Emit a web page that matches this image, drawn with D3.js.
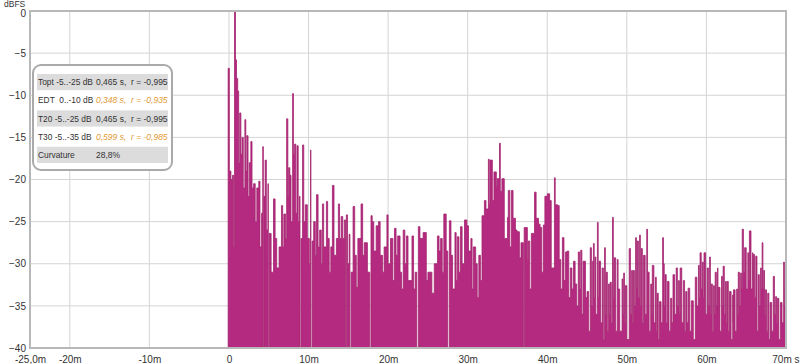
<!DOCTYPE html>
<html>
<head>
<meta charset="utf-8">
<script src="https://cdn.jsdelivr.net/npm/d3@7"></script>
<style>
  body { margin: 0; background: #fff; }
  text { font-family: "Liberation Sans", Arial, sans-serif; white-space: pre; }
</style>
</head>
<body>
<div id="chart"></div>
<script>
// impulse response: time in ms, level in dBFS
const irTime = [
  -0.15, -0.1, 0.05, 0.25, 0.45, 0.6, 0.7, 0.82, 0.95, 1.1, 1.22, 1.35, 1.5, 1.65, 1.8, 2.0, 2.12, 2.25, 2.4, 2.55,
  2.75, 2.9, 3.1, 3.3, 3.5, 3.75, 3.9, 4.1, 4.25, 4.32, 4.4, 4.55, 4.7, 4.9, 4.95, 5.05, 5.3, 5.6, 5.8, 6.0,
  6.3, 6.6, 6.75, 6.9, 7.1, 7.25, 7.4, 7.5, 7.65, 7.8, 8.0, 8.1, 8.25, 8.4, 8.55, 8.7, 8.85, 8.93, 9.05, 9.25,
  9.4, 9.6, 9.85, 10.1, 10.25, 10.3, 10.45, 10.65, 10.85, 11.0, 11.2, 11.4, 11.6, 11.75, 11.9, 12.25, 12.4, 12.6, 12.8, 13.0,
  13.2, 13.5, 13.75, 13.9, 14.1, 14.3, 14.5, 14.65, 14.75, 14.9, 15.1, 15.2, 15.35, 15.6, 15.8, 16.0, 16.2, 16.6, 16.8, 17.0,
  17.4, 17.7, 17.85, 18.0, 18.2, 18.5, 18.8, 19.0, 19.3, 19.5, 19.85, 20.0, 20.3, 20.6, 20.8, 21.0, 21.2, 21.5, 21.7, 21.9,
  22.1, 22.3, 22.5, 23.0, 23.2, 23.4, 23.6, 23.8, 24.0, 24.4, 24.8, 25.0, 25.5, 25.8, 26.2, 26.4, 26.6, 26.8, 27.0, 27.3,
  27.5, 27.7, 27.9, 28.1, 28.4, 28.55, 28.7, 28.9, 29.1, 29.3, 29.6, 29.9, 30.1, 30.4, 30.55, 30.7, 31.0, 31.2, 31.4, 31.6,
  31.8, 32.1, 32.3, 32.6, 32.7, 32.8, 33.1, 33.3, 33.6, 33.7, 34.0, 34.1, 34.3, 34.6, 35.0, 35.1, 35.3, 35.5, 35.7, 36.0,
  36.2, 36.5, 36.7, 37.0, 37.1, 37.5, 37.6, 37.8, 38.0, 38.4, 38.6, 38.9, 39.1, 39.3, 39.5, 39.7, 40.0, 40.3, 40.5, 40.9,
  41.0, 41.3, 41.5, 41.7, 41.9, 42.1, 42.3, 42.5, 42.7, 42.9, 43.1, 43.3, 43.5, 43.7, 43.9, 44.05, 44.2, 44.35, 44.5, 44.8,
  45.0, 45.2, 45.4, 45.55, 45.7, 45.8, 45.9, 46.0, 46.1, 46.3, 46.4, 46.5, 46.7, 46.9, 47.05, 47.2, 47.3, 47.4, 47.55, 47.7,
  47.8, 47.9, 48.05, 48.2, 48.3, 48.4, 48.6, 48.8, 48.9, 49.1, 49.4, 49.5, 49.6, 49.7, 49.8, 50.0, 50.3, 50.45, 50.6, 50.7,
  50.8, 50.95, 51.1, 51.2, 51.3, 51.45, 51.6, 51.7, 51.8, 51.95, 52.1, 52.3, 52.5, 52.6, 52.8, 53.0, 53.1, 53.2, 53.4, 53.6,
  53.7, 53.8, 53.95, 54.1, 54.3, 54.5, 54.6, 54.7, 54.8, 54.95, 55.1, 55.3, 55.5, 55.65, 55.8, 56.0, 56.2, 56.35, 56.5, 56.6,
  56.7, 56.9, 57.1, 57.25, 57.4, 57.55, 57.7, 57.9, 58.1, 58.35, 58.6, 58.8, 59.0, 59.1, 59.2, 59.35, 59.5, 59.6, 59.7, 59.9,
  60.1, 60.25, 60.4, 60.5, 60.6, 60.75, 60.9, 61.0, 61.1, 61.25, 61.4, 61.45, 61.5, 61.7, 61.9, 62.0, 62.1, 62.25, 62.4, 62.5,
  62.6, 62.75, 62.9, 63.1, 63.3, 63.35, 63.4, 63.6, 63.8, 63.9, 64.0, 64.15, 64.3, 64.4, 64.5, 64.65, 64.8, 65.0, 65.2, 65.3,
  65.4, 65.6, 65.8, 65.85, 65.9, 66.05, 66.2, 66.35, 66.5, 66.65, 66.8, 66.9, 67.0, 67.1, 67.2, 67.3, 67.4, 67.55, 67.7, 67.85,
  68.0, 68.2, 68.4, 68.55, 68.7, 68.8, 68.9, 69.1, 69.3, 69.5, 69.7, 69.8, 69.9, 70.0
];
const irLevel = [
  -40, -6.8, -19, -20, -19.5, -28, 0, -5.8, -8, -9.5, -18, -12.1, -17, -15, -21, -12.9, -19, -14.8, -22, -18,
  -15.5, -21, -20.5, -25, -21, -20.2, -28, -24, -16.1, -40, -22, -17.7, -26, -20.5, -40, -26.4, -31, -22.3, -27, -30.5,
  -28, -23.1, -28, -24.1, -27, -12.8, -22, -18.6, -19.5, -25, -9.8, -17, -15.8, -24, -16, -25, -22, -40, -27, -15.9,
  -25, -23, -27, -30, -16.5, -40, -27.3, -25, -29, -21.8, -28, -26, -30, -22.9, -28, -22.6, -27, -31, -28, -20.7,
  -29, -27, -22.9, -27, -24.4, -27, -24.8, -40, -24.2, -30, -26.5, -40, -31, -23.2, -29, -32.8, -27, -22.9, -29, -27.5,
  -31, -40, -24.3, -25, -28.5, -25.5, -25, -29, -31, -28, -24.2, -30, -27, -32, -25.8, -29, -26.7, -31, -33, -26,
  -30, -26.7, -32, -26.7, -33, -31, -40, -25.6, -27, -26.3, -32, -31, -33.5, -30, -26.7, -28.5, -27, -31, -24.1, -28.5,
  -40, -24.9, -29, -33, -26.3, -32, -26.8, -31, -25.6, -30, -24.8, -25.5, -28.5, -27, -33, -28, -30, -34, -29, -32,
  -24.3, -22.5, -23.5, -17.6, -23, -17.7, -22.5, -19.1, -20.8, -19.9, -15.7, -21.4, -19.9, -27, -24.5, -21.3, -28, -21.3, -24.6, -26,
  -26.2, -29.3, -27.5, -40, -25.7, -29.5, -27.3, -33, -26.4, -21.5, -24.6, -25.3, -25.7, -31, -25.4, -22, -21.7, -22.5, -30.5, -19.8,
  -23, -23.1, -29.5, -33, -26.9, -32, -28.6, -28.5, -34, -30.5, -33, -29.7, -32.4, -35, -28.6, -33, -28.4, -36, -29.7, -34,
  -33.3, -38, -28.1, -35, -29.7, -27.6, -34, -29.2, -36, -25.1, -34, -29.7, -37, -30.5, -39, -28.1, -36, -31, -38, -32.4,
  -36, -32.2, -37, -24.5, -34, -29.3, -38, -29.5, -33, -38, -31.8, -36, -31.1, -37, -32.6, -39, -28.2, -36, -30.8, -37,
  -30.8, -35, -26.9, -33, -27.3, -34, -26.6, -35, -28.2, -37, -29, -36, -25.9, -31, -38, -32.4, -36, -30.2, -37, -31.6,
  -38, -33.5, -39, -34.5, -37, -26.9, -30, -35, -31.3, -37, -32.1, -38, -34.1, -37, -31.3, -36, -30.5, -35, -32, -36,
  -30.5, -37, -32, -38, -33.3, -37, -32.9, -38, -34.4, -39, -31.6, -35, -30.2, -34, -28.7, -33, -29.8, -34, -28.7, -36,
  -30.5, -35, -29.2, -36, -32.4, -38, -32.6, -36, -31, -35, -30.5, -36, -32.8, -38, -31.5, -35, -30.3, -36, -32.1, -37,
  -32.1, -38, -33.3, -39, -33.7, -37, -33.1, -38, -33, -36, -31, -35, -31.1, -33, -25.9, -31, -28.1, -33, -28.7, -32,
  -26.1, -33, -28.7, -32, -28.9, -34, -29.1, -38, -31.3, -35, -30.5, -33, -27.5, -33, -30.8, -36, -33.1, -38, -33.5, -39,
  -34.6, -38, -31.5, -36, -33.9, -37, -34.1, -39, -34.6, -37, -29.8, -35, -33, -40
];

const xTicks = [-25, -20, -10, 0, 10, 20, 30, 40, 50, 60, 70];
const xTickLabels = ['-25,0m', '-20m', '-10m', '0', '10m', '20m', '30m', '40m', '50m', '60m', '70m s'];
const yTicks = [0, -5, -10, -15, -20, -25, -30, -35, -40];

const legendNames = ['Topt -5..-25 dB', 'EDT  0..-10 dB', 'T20 -5..-25 dB', 'T30 -5..-35 dB', 'Curvature'];
const legendValues = ['0,465 s,  r = -0,995', '0,348 s,  r = -0,935', '0,465 s,  r = -0,995', '0,599 s,  r = -0,985', '28,8%'];
const legendWarn = [false, true, false, true, false];

const width = 800;
const height = 364;
const plotLeft = 30, plotRight = 786, plotTop = 11, plotBottom = 348;

const svg = d3.select('#chart')
  .append('svg')
  .attr('width', width)
  .attr('height', height);

const x = d3.scaleLinear().domain([-25, 70]).range([plotLeft, plotRight]);
const y = d3.scaleLinear().domain([-40, 0]).range([plotBottom, plotTop]);

// grid
svg.append('g')
  .selectAll('line')
  .data(yTicks.filter(d => d !== 0 && d !== -40))
  .enter()
  .append('line')
  .attr('x1', plotLeft).attr('x2', plotRight)
  .attr('y1', d => y(d)).attr('y2', d => y(d))
  .attr('stroke', '#d4d4d4');

svg.append('g')
  .selectAll('line')
  .data(xTicks.filter(d => d !== -25 && d !== 70))
  .enter()
  .append('line')
  .attr('x1', d => x(d)).attr('x2', d => x(d))
  .attr('y1', plotTop).attr('y2', plotBottom)
  .attr('stroke', '#d4d4d4');

// impulse, drawn as thin vertical steps like the sampled trace
const points = irTime.map((t, i) => ({t: t, v: irLevel[i]}));

svg.append('clipPath').attr('id', 'plot')
  .append('rect')
  .attr('x', plotLeft).attr('y', plotTop)
  .attr('width', plotRight - plotLeft).attr('height', plotBottom - plotTop);

const area = d3.area()
  .curve(d3.curveStepAfter)
  .x(d => x(d.t))
  .y0(y(-40))
  .y1(d => y(d.v));

svg.append('path')
  .datum(points)
  .attr('clip-path', 'url(#plot)')
  .attr('d', area)
  .attr('fill', '#b42a80')
  .attr('stroke', '#a3246f')
  .attr('stroke-width', 0.8);

// frame
svg.append('rect')
  .attr('x', plotLeft).attr('y', plotTop)
  .attr('width', plotRight - plotLeft).attr('height', plotBottom - plotTop)
  .attr('fill', 'none')
  .attr('stroke', '#b8b8b8')
  .attr('stroke-width', 2);

// axes
const xAxis = svg.append('g')
  .attr('transform', 'translate(0,' + plotBottom + ')')
  .call(d3.axisBottom(x).tickValues(xTicks).tickSize(0).tickPadding(8)
    .tickFormat((d, i) => xTickLabels[i]));
xAxis.select('.domain').remove();
xAxis.selectAll('text')
  .attr('fill', '#333')
  .style('font-size', '10px');
xAxis.selectAll('.tick').filter(d => d === 70).select('text')
  .attr('text-anchor', 'end')
  .attr('dx', '13px');

const yAxis = svg.append('g')
  .attr('transform', 'translate(' + (plotLeft - 3) + ',0)')
  .call(d3.axisLeft(y).tickValues(yTicks).tickSize(0).tickPadding(1)
    .tickFormat(d3.format('d')));
yAxis.select('.domain').remove();
yAxis.selectAll('text')
  .attr('fill', '#333')
  .style('font-size', '10px');
yAxis.selectAll('.tick').filter(d => d === 0).select('text')
  .attr('dy', '0.5em');

svg.append('text')
  .attr('x', 4).attr('y', 6.5)
  .attr('fill', '#333')
  .style('font-size', '8.5px')
  .text('dBFS');

// legend
const legend = svg.append('g');
legend.append('rect')
  .attr('x', 33).attr('y', 65)
  .attr('width', 139).attr('height', 105)
  .attr('rx', 8)
  .attr('fill', '#fff')
  .attr('stroke', '#aaa')
  .attr('stroke-width', 2);

const rowY = d3.scaleBand().domain(d3.range(legendNames.length)).range([73, 164]);

legend.selectAll('.band')
  .data(legendNames.map((d, i) => i).filter(i => i % 2 === 0))
  .enter()
  .append('rect')
  .attr('x', 37).attr('width', 131)
  .attr('y', i => rowY(i) + 1).attr('height', rowY.bandwidth() - 2)
  .attr('fill', '#dcdcdc');

legend.selectAll('.name')
  .data(legendNames)
  .enter()
  .append('text')
  .attr('x', 38)
  .attr('y', (d, i) => rowY(i) + rowY.bandwidth() / 2 + 3)
  .attr('fill', '#333')
  .style('font-size', '8.4px')
  .text(d => d);

legend.selectAll('.value')
  .data(legendValues)
  .enter()
  .append('text')
  .attr('x', 96)
  .attr('y', (d, i) => rowY(i) + rowY.bandwidth() / 2 + 3)
  .attr('fill', (d, i) => legendWarn[i] ? '#e39a34' : '#333')
  .style('font-style', (d, i) => legendWarn[i] ? 'italic' : 'normal')
  .style('font-size', '8.5px')
  .text(d => d);
</script>
</body>
</html>
